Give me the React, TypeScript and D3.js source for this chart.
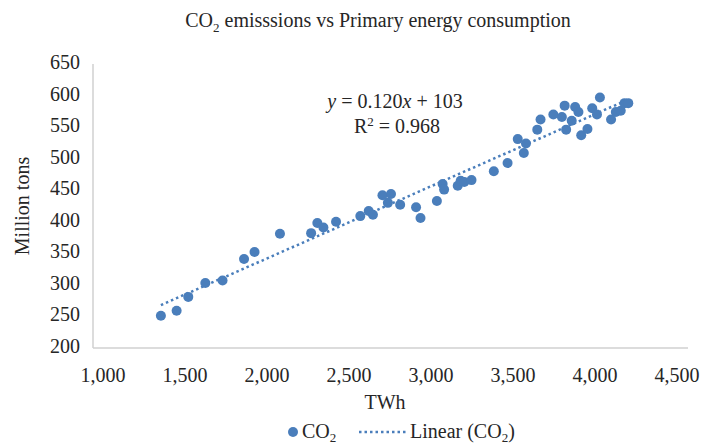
import React from "react";
import * as d3 from "d3";

const energyTWh = [1353,1449,1520,1624,1729,1860,1924,2079,2269,2307,2344,2421,2569,2620,2646,2704,2737,2756,2812,2909,2936,3036,3071,3080,3163,3181,3203,3247,3383,3467,3529,3566,3579,3648,3668,3746,3798,3815,3824,3858,3879,3899,3916,3954,3983,4012,4030,4098,4127,4157,4180,4203];
const co2Mt = [251,259,281,303,307,341,352,381,382,398,391,400,409,417,411,442,430,444,427,423,406,433,460,451,457,465,463,466,480,493,531,509,524,546,562,570,566,584,546,560,582,574,537,547,580,570,597,562,574,576,588,588];
const xTicks = [1000,1500,2000,2500,3000,3500,4000,4500];
const yTicks = [200,250,300,350,400,450,500,550,600,650];
const eqSlope = "0.120";
const eqIntercept = "103";
const r2Text = "0.968";

const W = 708, H = 445;
const FONT = "'Liberation Serif', 'Times New Roman', serif";
const BLUE = "#4a7ebb";
const AXIS = "#d0d0d0";

export default function App() {
  const x = d3.scaleLinear().domain([1000, 4500]).range([103, 677]);
  const y = d3.scaleLinear().domain([200, 650]).range([348, 64]);
  const plotLeft = 93, plotRight = 688;
  const fmt = d3.format(",");

  // least-squares fit from the data
  const mx = d3.mean(energyTWh)!, my = d3.mean(co2Mt)!;
  let sxy = 0, sxx = 0;
  energyTWh.forEach((v, i) => { sxy += (v - mx) * (co2Mt[i] - my); sxx += (v - mx) * (v - mx); });
  const b = sxy / sxx, a = my - b * mx;
  const [x0, x1] = d3.extent(energyTWh) as [number, number];
  const trend = d3.line<number>().x(d => x(d)).y(d => y(a + b * d))([x0, x1]);

  return (
    <svg width={W} height={H} style={{ position: "absolute", left: 0, top: 0, background: "#fff" }} fontFamily={FONT}>
      <text x={378} y={27} fontSize={20} textAnchor="middle" fill="#262626">
        CO<tspan fontSize={13} dy={5}>2</tspan><tspan dy={-5}> emisssions vs Primary energy consumption</tspan>
      </text>

      {/* axes */}
      <line x1={plotLeft} x2={plotLeft} y1={y(650)} y2={y(200)} stroke={AXIS} strokeWidth={1.5} />
      <line x1={plotLeft} x2={plotRight} y1={y(200)} y2={y(200)} stroke={AXIS} strokeWidth={1.5} />

      {yTicks.map(t => (
        <text key={t} x={80} y={y(t)} dy={5} fontSize={20} textAnchor="end" fill="#262626">{t}</text>
      ))}
      {xTicks.map(t => (
        <text key={t} x={x(t)} y={382} fontSize={20} textAnchor="middle" fill="#262626">{fmt(t)}</text>
      ))}

      <text x={385} y={409} fontSize={20} textAnchor="middle" fill="#262626">TWh</text>
      <text transform={`translate(29,${(y(650) + y(200)) / 2}) rotate(-90)`} fontSize={20} textAnchor="middle" fill="#262626">Million tons</text>

      {/* trend line */}
      <path d={trend!} fill="none" stroke={BLUE} strokeWidth={2.5} strokeDasharray="2.5,3" />

      {energyTWh.map((v, i) => (
        <circle key={i} cx={x(v)} cy={y(co2Mt[i])} r={5} fill={BLUE} />
      ))}

      {/* equation */}
      <text x={395} y={108} fontSize={20} textAnchor="middle" fill="#262626">
        <tspan fontStyle="italic">y</tspan> = {eqSlope}<tspan fontStyle="italic">x</tspan> + {eqIntercept}
      </text>
      <text x={397} y={133} fontSize={20} textAnchor="middle" fill="#262626">
        R<tspan fontSize={13} dy={-7}>2</tspan><tspan dy={7}> = {r2Text}</tspan>
      </text>

      {/* legend */}
      <circle cx={293} cy={432} r={5} fill={BLUE} />
      <text x={302} y={438} fontSize={20} fill="#262626">
        CO<tspan fontSize={13} dy={3.5}>2</tspan>
      </text>
      <line x1={359} x2={406} y1={432} y2={432} stroke={BLUE} strokeWidth={2.5} strokeDasharray="2.5,3" />
      <text x={410} y={438} fontSize={20} fill="#262626">
        Linear (CO<tspan fontSize={13} dy={3.5}>2</tspan><tspan dy={-3.5}>)</tspan>
      </text>
    </svg>
  );
}
